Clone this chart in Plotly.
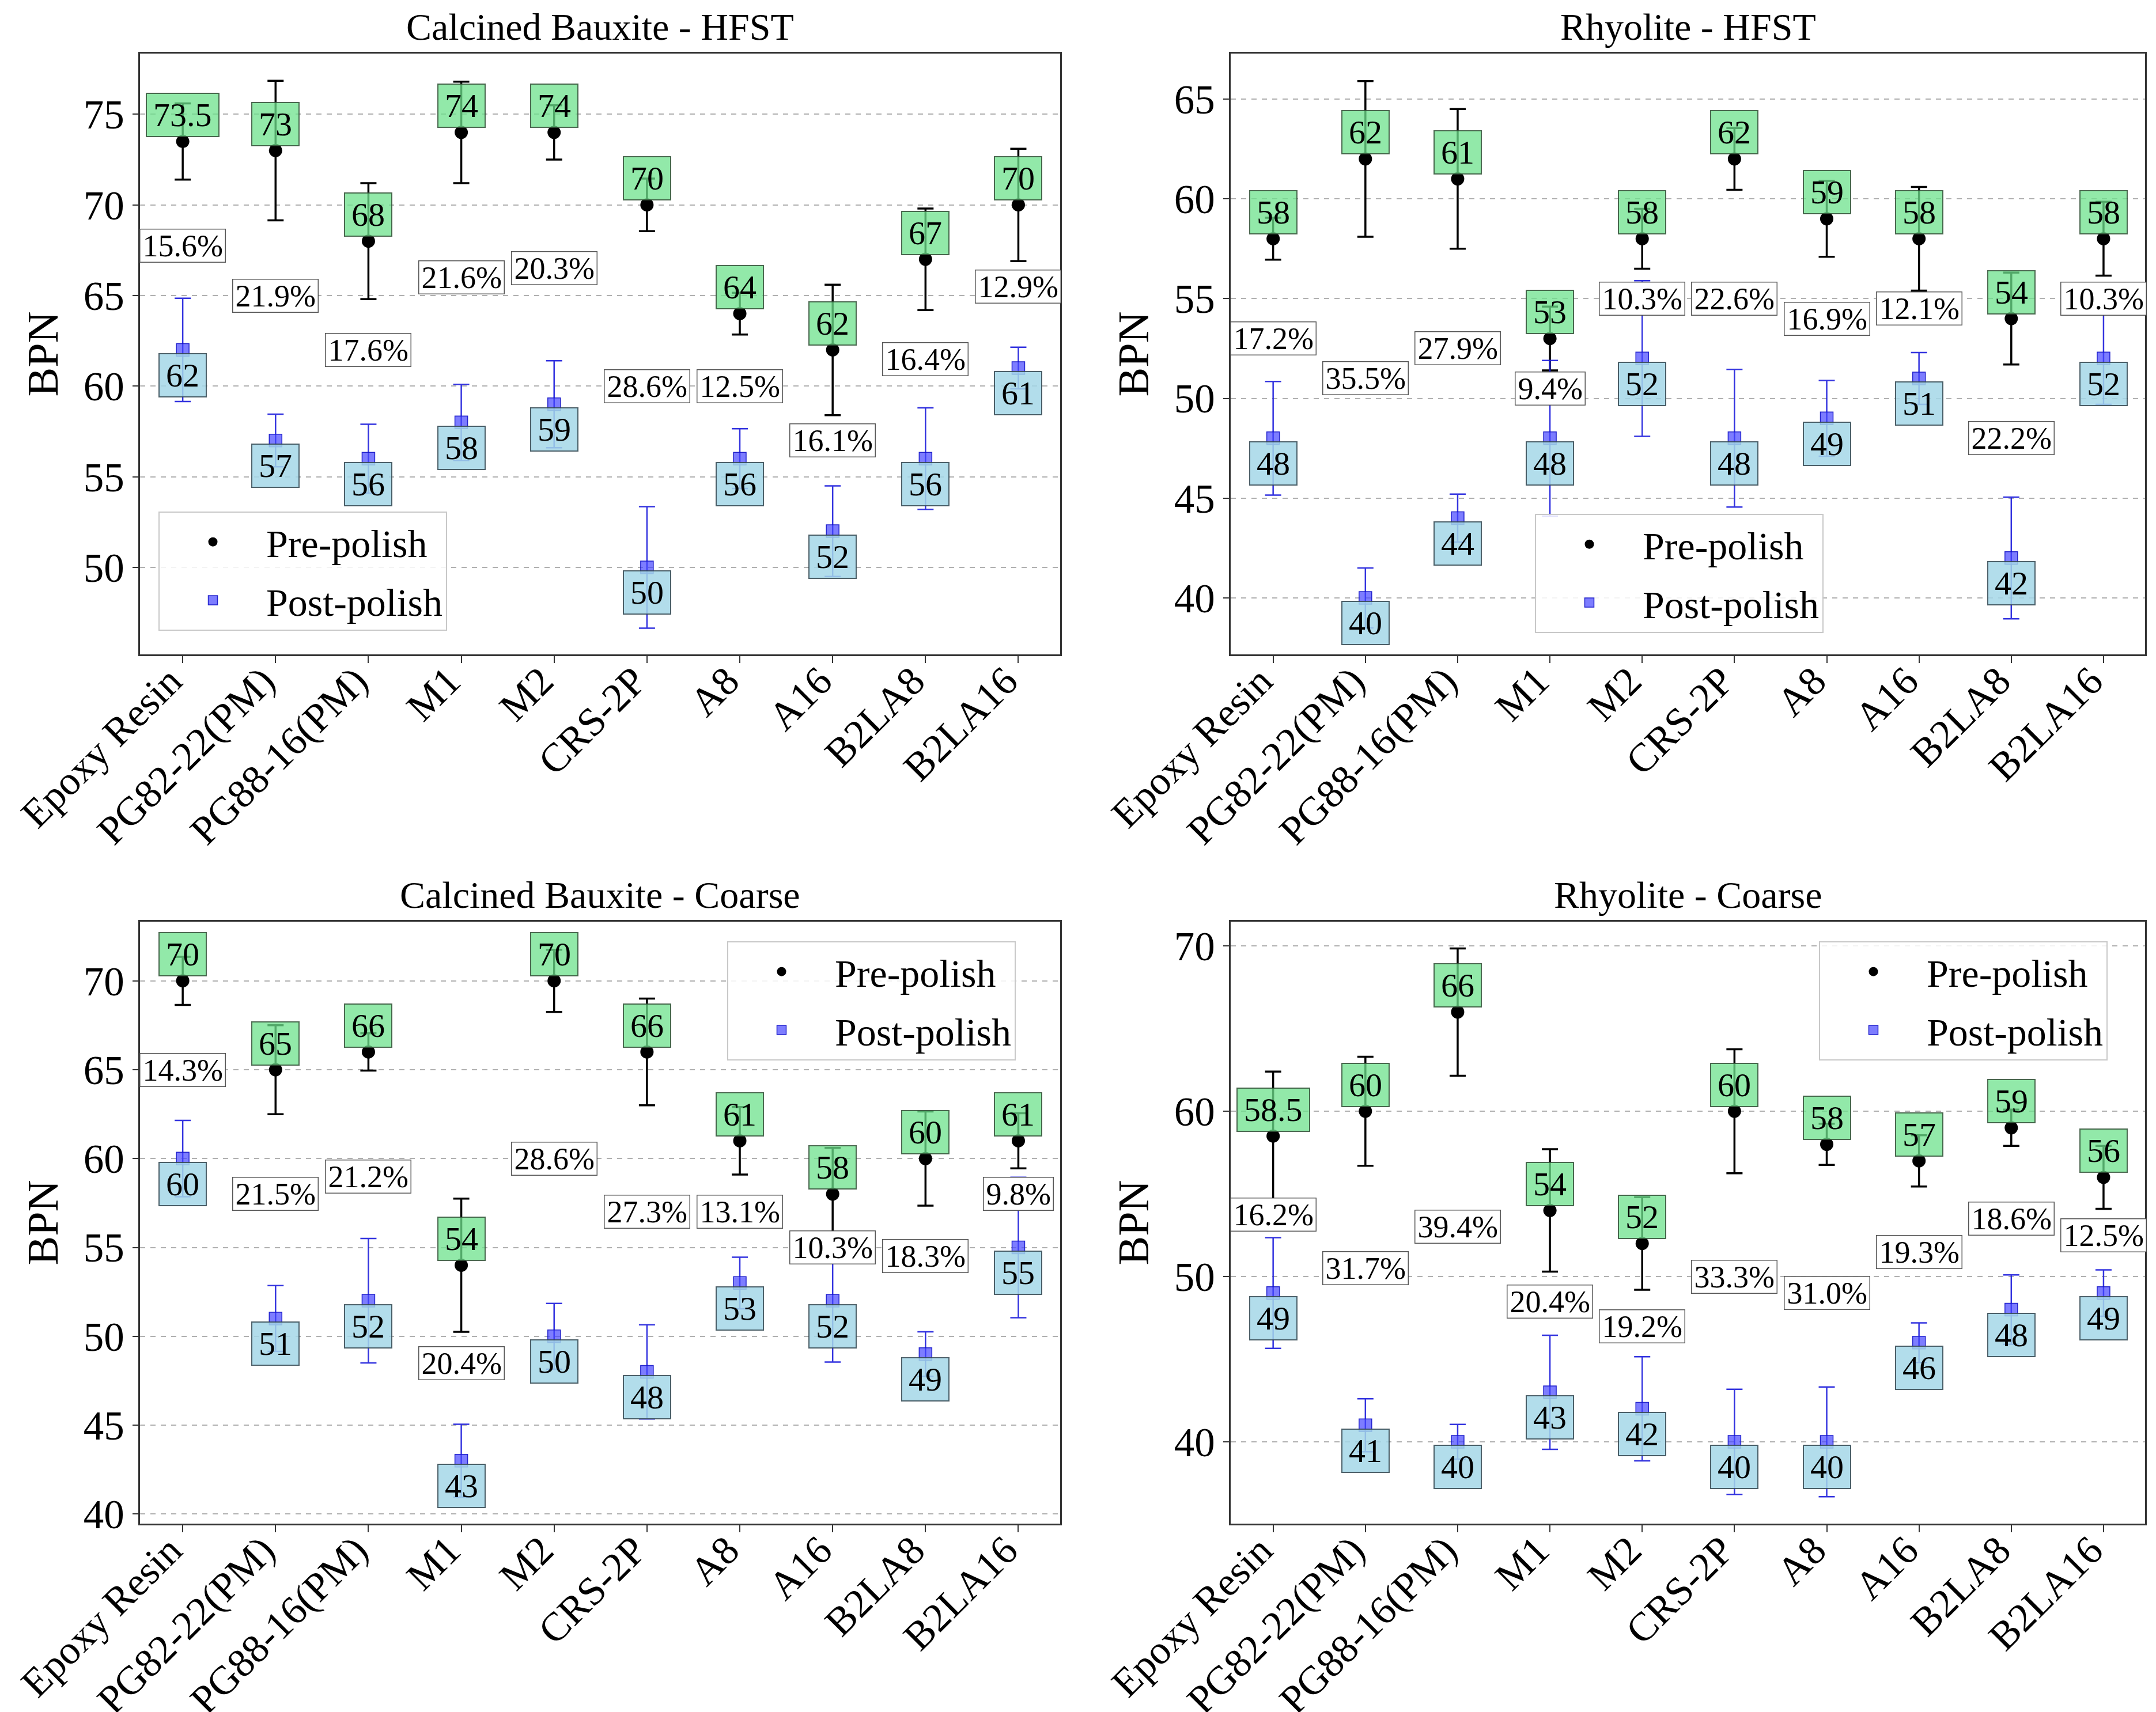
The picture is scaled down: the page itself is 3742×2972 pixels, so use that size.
import plotly.graph_objects as go

# ---------------- data ----------------
categories = ["Epoxy Resin", "PG82-22(PM)", "PG88-16(PM)", "M1", "M2",
              "CRS-2P", "A8", "A16", "B2LA8", "B2LA16"]

titles = ["Calcined Bauxite - HFST", "Rhyolite - HFST",
          "Calcined Bauxite - Coarse", "Rhyolite - Coarse"]

# Calcined Bauxite - HFST
cb_hfst_pre = [73.5, 73, 68, 74, 74, 70, 64, 62, 67, 70]
cb_hfst_pre_err = [2.1, 3.85, 3.2, 2.8, 1.5, 1.45, 1.15, 3.6, 2.8, 3.1]
cb_hfst_post = [62, 57, 56, 58, 59, 50, 56, 52, 56, 61]
cb_hfst_post_err = [2.85, 1.45, 1.9, 2.1, 2.4, 3.35, 1.65, 2.5, 2.8, 1.15]
cb_hfst_pct = ["15.6%", "21.9%", "17.6%", "21.6%", "20.3%", "28.6%", "12.5%", "16.1%", "16.4%", "12.9%"]

# Rhyolite - HFST
rh_hfst_pre = [58, 62, 61, 53, 58, 62, 59, 58, 54, 58]
rh_hfst_pre_err = [1.05, 3.9, 3.5, 1.6, 1.5, 1.55, 1.9, 2.6, 2.3, 1.85]
rh_hfst_post = [48, 40, 44, 48, 52, 48, 49, 51, 42, 52]
rh_hfst_post_err = [2.85, 1.5, 1.2, 3.9, 3.9, 3.45, 1.9, 1.3, 3.05, 2.3]
rh_hfst_pct = ["17.2%", "35.5%", "27.9%", "9.4%", "10.3%", "22.6%", "16.9%", "12.1%", "22.2%", "10.3%"]

# Calcined Bauxite - Coarse
cb_coarse_pre = [70, 65, 66, 54, 70, 66, 61, 58, 60, 61]
cb_coarse_pre_err = [1.35, 2.5, 1.05, 3.75, 1.75, 3.0, 1.9, 2.6, 2.65, 1.55]
cb_coarse_post = [60, 51, 52, 43, 50, 48, 53, 52, 49, 55]
cb_coarse_post_err = [2.15, 1.85, 3.5, 2.05, 1.85, 2.65, 1.45, 3.45, 1.25, 3.95]
cb_coarse_pct = ["14.3%", "21.5%", "21.2%", "20.4%", "28.6%", "27.3%", "13.1%", "10.3%", "18.3%", "9.8%"]

# Rhyolite - Coarse
rh_coarse_pre = [58.5, 60, 66, 54, 52, 60, 58, 57, 59, 56]
rh_coarse_pre_err = [3.9, 3.3, 3.85, 3.7, 2.8, 3.75, 1.25, 1.55, 1.1, 1.9]
rh_coarse_post = [49, 41, 40, 43, 42, 40, 40, 46, 48, 49]
rh_coarse_post_err = [3.35, 1.6, 1.05, 3.45, 3.15, 3.18, 3.32, 1.2, 2.1, 1.4]
rh_coarse_pct = ["16.2%", "31.7%", "39.4%", "20.4%", "19.2%", "33.3%", "31.0%", "19.3%", "18.6%", "12.5%"]

y_ranges = [[45.2, 78.35], [37.17, 67.28], [39.46, 73.33], [35.05, 71.47]]
y_ticks = [[50, 55, 60, 65, 70, 75], [40, 45, 50, 55, 60, 65],
           [40, 45, 50, 55, 60, 65, 70], [40, 50, 60, 70]]

panels = [
    (cb_hfst_pre, cb_hfst_pre_err, cb_hfst_post, cb_hfst_post_err, cb_hfst_pct),
    (rh_hfst_pre, rh_hfst_pre_err, rh_hfst_post, rh_hfst_post_err, rh_hfst_pct),
    (cb_coarse_pre, cb_coarse_pre_err, cb_coarse_post, cb_coarse_post_err, cb_coarse_pct),
    (rh_coarse_pre, rh_coarse_pre_err, rh_coarse_post, rh_coarse_post_err, rh_coarse_pct),
]

# ---------------- layout geometry ----------------
W, H = 3742, 2972
x_doms = [[235 / W, 1832 / W], [2128 / W, 3715 / W]]
y_doms = [[1 - 1128 / H, 1 - 85 / H], [1 - 2637 / H, 1 - 1592 / H]]
legend_pos = [(267 / W, 1 - 880 / H), (2656 / W, 1 - 884 / H),
              (1254 / W, 1 - 1626 / H), (3149 / W, 1 - 1626 / H)]

FONT = "Liberation Serif"
VAL_SIZE = 58
PCT_SIZE = 54
fig = go.Figure()


def text_width(s, size):
    w = 0
    for ch in s:
        if ch == ".":
            w += 0.25
        elif ch == "%":
            w += 0.833
        else:
            w += 0.5
    return w * size


annotations = []
for k, (pre, pre_err, post, post_err, pct) in enumerate(panels):
    ax = "" if k == 0 else str(k + 1)
    xref, yref = "x" + ax, "y" + ax
    leg = "legend" + ax
    fig.add_trace(go.Scatter(
        x=categories, y=pre, mode="markers", name="Pre-polish",
        marker=dict(color="black", size=23, symbol="circle"),
        error_y=dict(type="data", array=pre_err, color="black", thickness=3.5, width=14),
        xaxis=xref, yaxis=yref, legend=leg, legendgroup="pre" + ax, showlegend=True))
    fig.add_trace(go.Scatter(
        x=categories, y=post, mode="markers", name="Post-polish",
        marker=dict(color="rgba(70,70,255,0.7)", size=22, symbol="square",
                    line=dict(color="rgba(20,20,200,0.9)", width=1.5)),
        error_y=dict(type="data", array=post_err, color="rgba(30,30,220,0.9)", thickness=2.5, width=14),
        xaxis=xref, yaxis=yref, legend=leg, legendgroup="post" + ax, showlegend=True))

    for i, c in enumerate(categories):
        t = f"{pre[i]:g}"
        annotations.append(dict(
            x=c, y=pre[i], xref=xref, yref=yref, text=t, showarrow=False,
            yshift=46, font=dict(family=FONT, size=VAL_SIZE, color="black"),
            bgcolor="rgba(110,226,140,0.75)", bordercolor="rgba(50,80,55,0.85)",
            borderwidth=2, borderpad=6, width=text_width(t, VAL_SIZE) + 10, height=61))
        t = f"{post[i]:g}"
        annotations.append(dict(
            x=c, y=post[i], xref=xref, yref=yref, text=t, showarrow=False,
            yshift=-44, font=dict(family=FONT, size=VAL_SIZE, color="black"),
            bgcolor="rgba(165,215,232,0.85)", bordercolor="rgba(50,70,80,0.85)",
            borderwidth=2, borderpad=6, width=text_width(t, VAL_SIZE) + 10, height=61))
        annotations.append(dict(
            x=c, y=(pre[i] + post[i]) / 2, xref=xref, yref=yref, text=pct[i],
            showarrow=False, font=dict(family=FONT, size=PCT_SIZE, color="black"),
            bgcolor="white", bordercolor="rgba(70,70,70,0.9)",
            borderwidth=1.5, borderpad=3, width=text_width(pct[i], PCT_SIZE) + 2, height=50))

    xd = x_doms[k % 2]
    yd = y_doms[k // 2]
    annotations.append(dict(
        x=(xd[0] + xd[1]) / 2, y=yd[1], xref="paper", yref="paper", text=titles[k],
        showarrow=False, xanchor="center", yanchor="bottom", yshift=8,
        font=dict(family=FONT, size=66, color="black")))

    fig.layout["xaxis" + ax] = dict(
        domain=xd, anchor=yref, range=[-0.46, 9.45], type="category",
        tickangle=-45, tickfont=dict(family=FONT, size=70, color="black"),
        ticks="outside", ticklen=12, tickwidth=2, tickcolor="#333",
        ticklabelstandoff=-38, ticklabelshift=-22,
        showgrid=False, showline=True, linecolor="#333", linewidth=3, mirror=True,
        automargin=False, zeroline=False)
    fig.layout["yaxis" + ax] = dict(
        domain=yd, anchor=xref, range=y_ranges[k], tickvals=y_ticks[k],
        tickfont=dict(family=FONT, size=71, color="black"),
        ticks="outside", ticklen=10, tickwidth=2, tickcolor="#333",
        showgrid=True, gridcolor="rgba(150,150,150,0.75)", gridwidth=2, griddash="dash",
        showline=True, linecolor="#333", linewidth=3, mirror=True, zeroline=False,
        title=dict(text="BPN", font=dict(family=FONT, size=76, color="black"), standoff=20),
        automargin=False)
    lx, ly = legend_pos[k]
    fig.layout[leg] = dict(
        x=lx, y=ly, xanchor="left", yanchor="top", xref="paper", yref="paper",
        font=dict(family=FONT, size=68, color="black"),
        bgcolor="rgba(255,255,255,0.85)", bordercolor="#c8c8c8", borderwidth=2,
        itemwidth=175, tracegroupgap=10)

fig.update_layout(
    width=W, height=H, autosize=False,
    margin=dict(l=0, r=0, t=0, b=0),
    paper_bgcolor="white", plot_bgcolor="white",
    font=dict(family=FONT, color="black"),
    annotations=annotations,
)

fig.write_html("out.html")
